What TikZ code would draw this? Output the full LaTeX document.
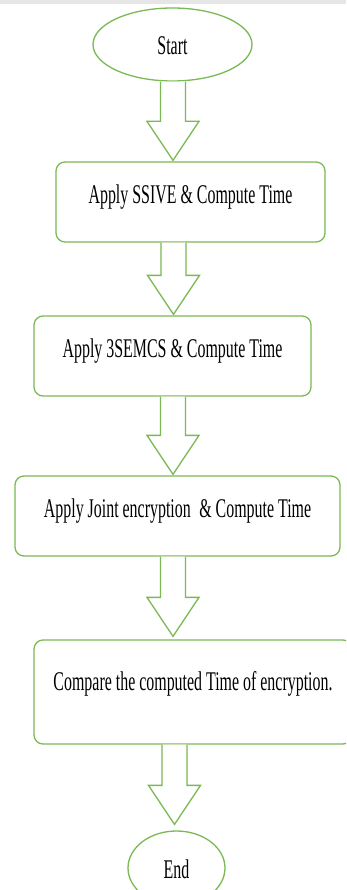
\documentclass[tikz,border=0pt]{standalone}
\usepackage{fontspec}
\setmainfont{Liberation Serif}[FakeStretch=0.59]
\usetikzlibrary{shapes.geometric,calc}
\definecolor{lineg}{RGB}{122,185,84}
\definecolor{topbar}{RGB}{230,230,230}
\tikzset{
  flowbox/.style={draw=lineg, line width=1.3pt, fill=white, rounded corners=9pt,
    inner sep=0pt, text height=17pt, text depth=14pt},
  terminal/.style={draw=lineg, line width=1.3pt, fill=white, ellipse,
    inner sep=0pt, text height=20pt, text depth=0pt},
  blockarrow/.style={draw=lineg, line width=1.3pt, fill=white, line join=miter}
}
\newcommand\barrow[4]{%
  \draw[blockarrow] let \p1=(#1.south), \p2=(#2.north) in
    (#3pt-12.5pt,\y1) -- (#3pt-12.5pt,\y2+#4pt+39pt) -- (#3pt-26pt,\y2+#4pt+39pt)
    -- (#3pt,\y2+#4pt) -- (#3pt+26pt,\y2+#4pt+39pt) -- (#3pt+12.5pt,\y2+#4pt+39pt)
    -- (#3pt+12.5pt,\y1);
}
\begin{document}
\begin{tikzpicture}[x=1pt,y=-1pt,font=\fontsize{27}{30}\selectfont]
\useasboundingbox (0,0) rectangle (346,890);
\clip (0,0) rectangle (346,890);
\fill[white] (0,0) rectangle (346,890);
\fill[topbar] (0,0) rectangle (346,4.3);
\node[terminal, minimum width=159pt, minimum height=73pt] (start) at (172.5,44.5) {Start};
\node[flowbox, minimum width=269pt, minimum height=80pt] (b1) at (190.5,202) {Apply SSIVE \& Compute Time};
\node[flowbox, minimum width=277pt, minimum height=80pt] (b2) at (172.5,356) {Apply 3SEMCS \& Compute Time};
\node[flowbox, minimum width=325pt, minimum height=80pt] (b3) at (177.5,516) {Apply Joint encryption\, \& Compute Time};
\node[flowbox, minimum width=318pt, minimum height=104pt, text depth=21pt] (b4) at (193,692) {Compare the computed Time of encryption.};
\node[terminal, minimum width=97pt, minimum height=74pt] (end) at (176.5,868) {End};
\barrow{start}{b1}{173}{1}
\barrow{b1}{b2}{173.5}{1}
\barrow{b2}{b3}{173}{1}
\barrow{b3}{b4}{173}{3}
\barrow{b4}{end}{174.5}{6}
\end{tikzpicture}
\end{document}
